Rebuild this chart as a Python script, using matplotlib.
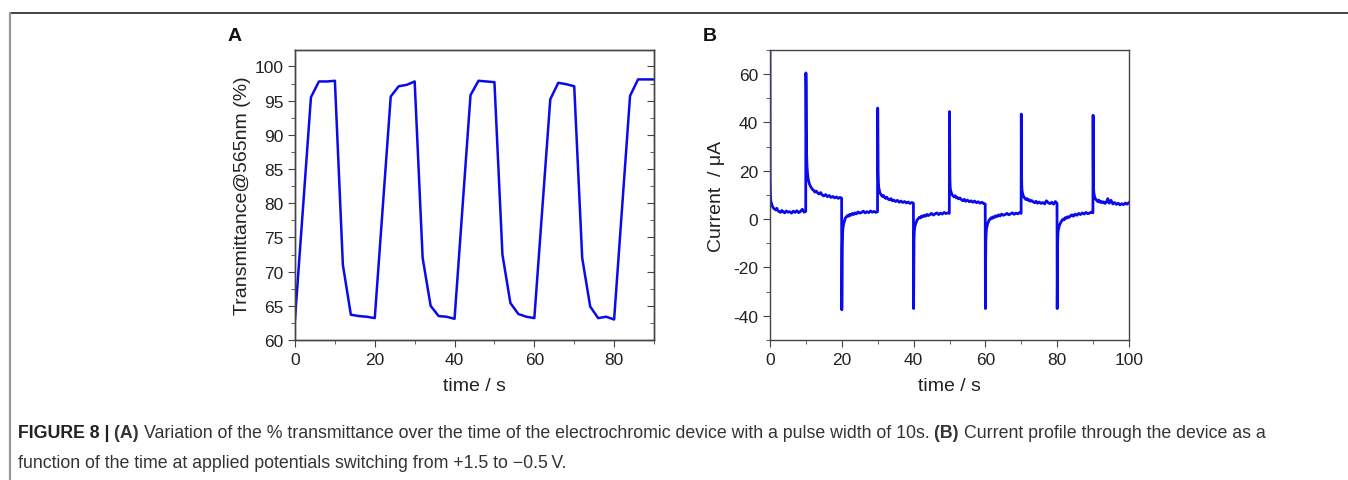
import matplotlib
matplotlib.use("Agg")
import matplotlib.pyplot as plt
from matplotlib.lines import Line2D
from matplotlib.ticker import MultipleLocator
import numpy as np

BLUE = "#0a0aeb"; INK = "#222222"; AX = "#444444"; CAP = "#333333"

plt.rcParams.update({
    "font.family": ["Liberation Sans", "DejaVu Sans"],
    "font.size": 12.5, "axes.edgecolor": AX, "axes.linewidth": 1.0,
    "axes.unicode_minus": False,
    "xtick.color": AX, "ytick.color": AX, "xtick.labelcolor": INK, "ytick.labelcolor": INK,
    "xtick.major.size": 5, "ytick.major.size": 5, "xtick.minor.size": 3, "ytick.minor.size": 3,
})

# ---- panel A: transmittance at 565 nm
time_a = [0, 0.3, 4, 6, 8, 10, 12, 14, 16, 18, 20, 24, 26, 28, 30, 32, 34, 36, 38, 40,
          44, 46, 48, 50, 52, 54, 56, 58, 60, 64, 66, 68, 70, 72, 74, 76, 78, 80, 84, 86, 88, 90]
trans_a = [63, 65.5, 95.5, 97.8, 97.8, 97.9, 71, 63.7, 63.5, 63.4, 63.2, 95.6, 97.1, 97.3, 97.8,
           72, 65, 63.5, 63.4, 63.1, 95.8, 97.9, 97.8, 97.7, 72.5, 65.4, 63.8, 63.4, 63.2,
           95.2, 97.6, 97.4, 97.1, 72, 64.9, 63.2, 63.4, 63.0, 95.7, 98.1, 98.1, 98.1]

# ---- panel B: current, one row per 10 s step (step start, readings at the offsets below)
step_start = [0, 10, 20, 30, 40, 50, 60, 70, 80, 90]
offsets = [0, 0.05, 0.12, 0.2, 0.3, 0.45, 0.6, 0.8, 1.0, 1.3, 1.6, 1.9, 2.2, 2.5, 2.9,
           3.3, 3.7, 4.1, 4.5, 5.0, 5.5, 6.0, 6.5, 7.0, 7.5, 8.0, 8.5, 9.0, 9.5, 9.95]
current_b = [
    [72, 17, 10, 8, 7, 6.5, 5.5, 5, 4.5, 4.2, 3.8, 4.5, 3.5, 3.2, 2.8, 3.6, 3, 2.6, 3.4, 2.9,
     3.1, 2.5, 3.3, 2.8, 3.5, 2.7, 3.2, 4.1, 2.9, 3.2],
    [60.5, 56, 38, 27, 22, 19, 17, 15.5, 14.5, 13.5, 12.8, 12.2, 11.9, 11.2, 11.6, 10.8, 10.4,
     11, 10.1, 9.6, 10.2, 9.3, 9.8, 9, 9.4, 8.8, 9.2, 8.6, 9, 8.7],
    [-37.5, -30, -12, -7, -4, -2.5, -1.5, -0.5, 0.5, 1, 1.5, 1.2, 2, 1.6, 2.4, 1.9, 2.6, 2.2,
     3, 2.5, 2.8, 3.3, 2.6, 3.1, 2.7, 3.4, 2.9, 3.2, 2.8, 3.1],
    [46, 36, 20, 15, 13, 12, 11, 10.5, 10, 9.4, 9.8, 9, 8.6, 9.1, 8.3, 8, 8.5, 7.6, 7.9, 7.3,
     7.8, 7, 7.5, 6.9, 7.3, 6.7, 7.1, 6.5, 6.9, 6.6],
    [-37, -22, -8, -5, -3.5, -2.5, -1.8, -1, -0.3, 0.2, 0.8, 0.5, 1.3, 0.9, 1.6, 1.2, 2, 1.5,
     1.8, 2.4, 1.7, 2.2, 2.6, 1.9, 2.5, 2.1, 2.8, 2.3, 2.6, 2.4],
    [44.5, 30, 16, 13, 12, 11.2, 10.6, 10, 9.6, 9.2, 9.7, 8.8, 9, 8.4, 8.8, 8.1, 7.6, 8.2,
     7.4, 7.9, 7.2, 7.6, 7, 7.5, 6.8, 7.2, 6.6, 7, 6.5, 6.3],
    [-37, -20, -9, -6, -4, -3, -2, -1.3, -0.5, 0, 0.6, 0.3, 1, 0.7, 1.4, 1.1, 1.8, 1.3, 2.1,
     1.6, 1.9, 2.4, 1.8, 2.2, 2.6, 2, 2.5, 2.2, 2.7, 2.4],
    [43.5, 24, 14, 12, 11, 10.2, 9.5, 9, 8.6, 8.1, 8.5, 7.8, 8, 7.4, 7.7, 7.2, 6.8, 7.4, 6.6,
     7.1, 6.5, 6.9, 6.3, 7.6, 6.8, 6.4, 7, 6.2, 7.3, 6.5],
    [-37, -24, -10, -6, -4.5, -3.5, -2.7, -2, -1.3, -0.6, 0, -0.3, 0.6, 0.3, 1, 0.7, 1.4,
     1.8, 1.2, 2.1, 1.6, 2.4, 1.9, 2.6, 2.1, 2.8, 2.3, 2.5, 2.9, 2.6],
    [43, 23, 13, 11, 10, 9.2, 8.6, 8.1, 7.8, 7.3, 7.9, 7, 7.4, 6.8, 7.2, 6.5, 7, 8.5, 6.6,
     7.8, 6.3, 6.9, 6.1, 6.6, 5.9, 6.4, 6, 6.7, 6.2, 6.8],
]
time_b = np.concatenate([s + np.array(offsets) for s in step_start])
curr_b = np.concatenate(current_b)

W, H = 1348, 481
fig = plt.figure(figsize=(W / 100, H / 100), dpi=100)

def px_axes(l, r, t, b):
    return fig.add_axes([l / W, 1 - b / H, (r - l) / W, (b - t) / H])

# panel A
ax = px_axes(295, 654, 51, 341)
ax.plot(time_a, trans_a, color=BLUE, lw=1.8)
ax.set_xlim(0, 90); ax.set_ylim(60, 102.4)
ax.xaxis.set_major_locator(MultipleLocator(20)); ax.xaxis.set_minor_locator(MultipleLocator(10))
ax.yaxis.set_major_locator(MultipleLocator(5)); ax.yaxis.set_minor_locator(MultipleLocator(2.5))
ax.tick_params(which="both", direction="out")
tw = ax.twinx()  # right-hand ticks point inward in the original
tw.set_ylim(ax.get_ylim())
tw.yaxis.set_major_locator(MultipleLocator(5)); tw.yaxis.set_minor_locator(MultipleLocator(2.5))
tw.tick_params(which="both", direction="in", labelright=False)
ax.set_xlabel("time / s", fontsize=14, color=INK, labelpad=7)
ax.set_ylabel("Transmittance@565nm (%)", fontsize=14, color=INK, labelpad=2)
fig.text(235 / W, 1 - 37 / H, "A", fontsize=14, fontweight="bold", color="#111111",
         ha="center", va="center")

# panel B
ax = px_axes(770, 1129, 51, 341)
ax.plot(time_b, curr_b, color=BLUE, lw=2.0)
ax.set_xlim(0, 100); ax.set_ylim(-50, 70)
ax.xaxis.set_major_locator(MultipleLocator(20)); ax.xaxis.set_minor_locator(MultipleLocator(10))
ax.yaxis.set_major_locator(MultipleLocator(20)); ax.yaxis.set_minor_locator(MultipleLocator(10))
ax.tick_params(which="both", direction="out")
ax.set_xlabel("time / s", fontsize=14, color=INK, labelpad=7)
ax.set_ylabel("Current  / \u03bcA", fontsize=14, color=INK, labelpad=6)
fig.text(710 / W, 1 - 37 / H, "B", fontsize=14, fontweight="bold", color="#111111",
         ha="center", va="center")

# frame lines of the page
fig.add_artist(Line2D([10 / W, 1], [1 - 13.5 / H] * 2, color="#333333", lw=1.3))
fig.add_artist(Line2D([10 / W] * 2, [0, 1 - 13.5 / H], color="#999999", lw=1.6))

# caption with bold pieces chained one after another
cap = fig.add_axes([0, 0, 1, 1]); cap.axis("off")
CAPFONT = ["Liberation Sans", "DejaVu Sans"]
CAPSIZE = 12.8
pieces = [("FIGURE 8 | ", "bold", INK), ("(A) ", "bold", CAP),
          ("Variation of the % transmittance over the time of the electrochromic device with a pulse width of 10s. ", "normal", CAP),
          ("(B) ", "bold", CAP),
          ("Current profile through the device as a", "normal", CAP)]
prev = None
for txt, wt, col in pieces:
    if prev is None:
        prev = cap.text(18 / W, 1 - 438 / H, txt, fontsize=CAPSIZE, fontweight=wt, color=col,
                        family=CAPFONT, va="baseline", ha="left")
    else:
        prev = cap.annotate(txt, xy=(1, 0), xycoords=prev, va="bottom", ha="left",
                            fontsize=CAPSIZE, fontweight=wt, color=col, family=CAPFONT)
cap.text(18 / W, 1 - 468 / H, "function of the time at applied potentials switching from +1.5 to \u22120.5\u2009V.",
         fontsize=CAPSIZE, color=CAP, family=CAPFONT, va="baseline", ha="left")

fig.savefig("out.png", dpi=100)
